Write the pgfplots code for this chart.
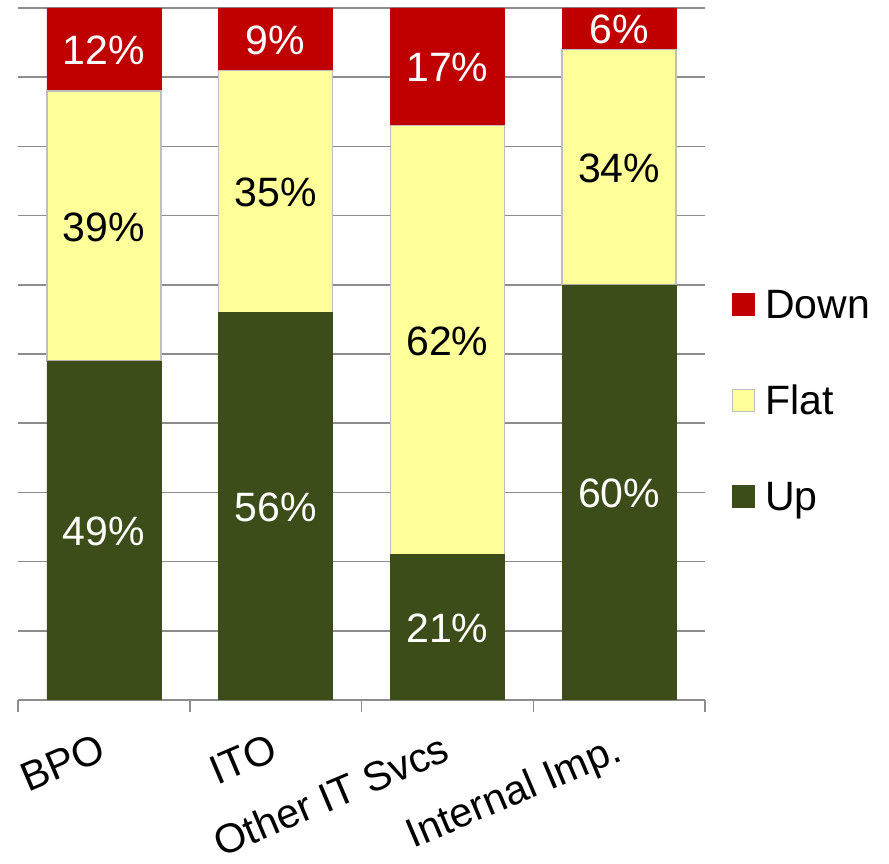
\documentclass[border=0pt]{standalone}
\usepackage{fontspec}
\setmainfont{Liberation Sans}
\usepackage{pgfplots}
\pgfplotsset{compat=1.18}
\definecolor{cDown}{RGB}{192,0,0}
\definecolor{cFlat}{RGB}{255,255,153}
\definecolor{cUp}{RGB}{60,77,25}
\definecolor{cGrid}{RGB}{140,140,140}
\definecolor{cEdge}{RGB}{190,190,190}
\newcommand{\bigf}{\fontsize{41}{49}\selectfont}
\begin{document}
\begin{tikzpicture}
\begin{axis}[
  name=ax,
  scale only axis, width=687pt, height=692pt,
  ybar stacked, bar width=114pt,
  xmin=-0.5, xmax=3.5, ymin=0, ymax=100,
  axis x line*=bottom, axis y line*=left,
  y axis line style={draw=none},
  x axis line style={draw=cGrid, line width=1.5pt, -},
  xtick={0,1,2,3},
  xticklabels={BPO,ITO,Other IT Svcs,Internal Imp.},
  minor xtick={-0.5,0.5,1.5,2.5,3.5},
  tick align=outside,
  major x tick style={draw=none},
  minor x tick style={draw=cGrid, line width=1.5pt},
  minor tick length=12pt,
  major tick length=0pt,
  ytick={0,10,...,100},
  yticklabels={},
  major y tick style={draw=none},
  ymajorgrids,
  grid style={draw=cGrid, line width=1.5pt},
  xticklabel style={font=\bigf, xshift=-7pt, yshift=-32pt, rotate=23, anchor=north east, inner sep=0pt},
  legend style={draw=none, fill=none, at={(rel axis cs:1,0.428)}, anchor=west, xshift=24pt,
    font=\bigf, row sep=57pt, cells={anchor=west},
    nodes={inner sep=0pt, text height=30pt, text depth=9pt},
    /tikz/every odd column/.append style={column sep=10pt}},
  legend image code/.code={\draw[#1, line width=1pt] (0pt,-7.5pt) rectangle (22pt,14.5pt);},
  reverse legend,
]
\addplot[fill=cUp, draw=cUp] coordinates {(0,49) (1,56) (2,21) (3,60)};
\addplot[fill=cFlat, draw=cEdge, line width=1.5pt] coordinates {(0,39) (1,35) (2,62) (3,34)};
\addplot[fill=cDown, draw=cDown] coordinates {(0,12) (1,9) (2,17) (3,6)};
\legend{Up,Flat,Down}
\end{axis}
\begin{axis}[
  at={(ax.south west)}, anchor=south west,
  scale only axis, width=687pt, height=692pt,
  xmin=-0.5, xmax=3.5, ymin=0, ymax=100,
  hide axis, clip=false,
  nodes near coords, point meta=explicit symbolic,
  nodes near coords style={anchor=center, font=\bigf, inner sep=0pt, yshift=-1pt},
]
\addplot[only marks, mark=none, nodes near coords style={text=white}] coordinates {(0,24.5) [49\%] (1,28) [56\%] (2,10.5) [21\%] (3,30) [60\%]};
\addplot[only marks, mark=none, nodes near coords style={text=black}] coordinates {(0,68.5) [39\%] (1,73.5) [35\%] (2,52) [62\%] (3,77) [34\%]};
\addplot[only marks, mark=none, nodes near coords style={text=white}] coordinates {(0,94) [12\%] (1,95.5) [9\%] (2,91.5) [17\%] (3,97) [6\%]};
\end{axis}
\path ([shift={(-18pt,-164pt)}]ax.south west) rectangle ([shift={(184pt,8pt)}]ax.north east);
\end{tikzpicture}
\end{document}
